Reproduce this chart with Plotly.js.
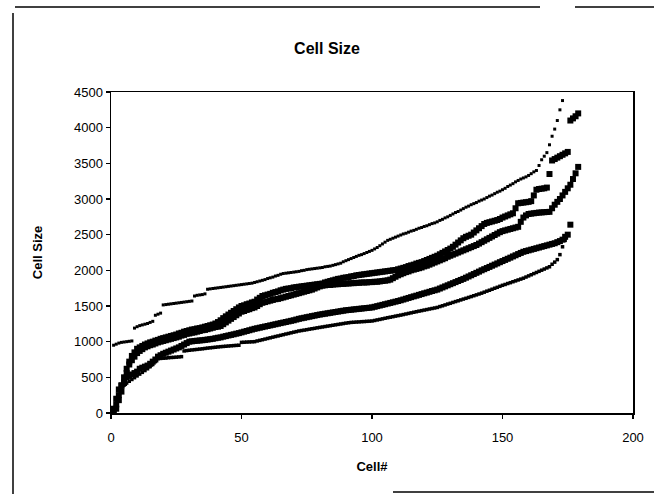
<!DOCTYPE html>
<html>
<head>
<meta charset="utf-8">
<script src="https://cdn.plot.ly/plotly-3.0.1.min.js"></script>
<style>html,body{margin:0;padding:0;background:#fff;}#chart{width:654px;height:494px;}</style>
</head>
<body>
<div id="chart"></div>
<script>
// Sorted cell sizes for five samples; x = cell number (1..N)
const seriesA = [950,965,980,990,995,1000,1005,1010,1190,1210,1225,1235,1245,1255,1270,1285,1370,1385,1400,1515,
1520,1525,1530,1535,1540,1545,1550,1555,1560,1565,1570,1640,1650,1655,1660,1670,1735,1740,1745,1750,
1755,1760,1765,1770,1775,1780,1785,1790,1795,1800,1805,1810,1815,1820,1830,1840,1850,1860,1870,1885,
1895,1905,1920,1930,1945,1955,1960,1965,1970,1975,1980,1985,1995,2000,2010,2015,2020,2025,2030,2035,
2040,2050,2055,2060,2070,2080,2090,2100,2120,2135,2150,2165,2180,2195,2210,2220,2235,2250,2265,2280,
2300,2320,2345,2370,2395,2420,2435,2450,2465,2480,2495,2510,2520,2535,2550,2560,2575,2590,2600,2615,
2625,2640,2655,2665,2680,2700,2715,2735,2750,2770,2790,2810,2825,2845,2865,2885,2900,2920,2935,2950,
2970,2985,3000,3020,3040,3055,3075,3095,3110,3130,3150,3175,3195,3215,3240,3260,3280,3295,3310,3330,
3355,3380,3400,3470,3550,3600,3650,3760,3880,3980,4100,4250,4380];

const seriesB = [30,120,250,380,500,620,720,800,850,900,920,940,960,975,990,1000,1015,1025,1040,1050,
1060,1070,1080,1090,1100,1115,1125,1140,1150,1160,1170,1175,1185,1190,1200,1210,1220,1230,1240,1255,
1275,1300,1330,1355,1380,1405,1430,1455,1480,1500,1510,1525,1535,1550,1560,1590,1615,1640,1650,1660,
1670,1685,1695,1705,1720,1730,1740,1745,1750,1760,1765,1770,1775,1780,1785,1790,1795,1800,1805,1810,
1815,1830,1840,1850,1860,1870,1880,1885,1895,1900,1905,1915,1920,1930,1935,1940,1945,1950,1955,1960,
1965,1970,1975,1980,1985,1990,1995,2000,2005,2015,2025,2035,2045,2060,2070,2080,2095,2105,2115,2130,
2145,2160,2175,2190,2205,2225,2245,2265,2285,2305,2330,2360,2390,2420,2450,2470,2485,2500,2530,2560,
2590,2620,2650,2665,2675,2685,2695,2705,2720,2740,2755,2770,2785,2800,2870,2940,2945,2950,2955,2960,
2970,3050,3130,3140,3145,3150,3160,3350,3540,3560,3580,3600,3620,3640,3660,4100,4130,4160,4200];

const seriesC = [0,60,180,300,420,560,680,740,790,840,870,895,920,935,950,960,975,990,1000,1010,
1020,1030,1040,1050,1060,1070,1085,1095,1110,1115,1125,1130,1140,1150,1160,1165,1175,1185,1195,1205,
1210,1220,1245,1270,1295,1320,1345,1370,1395,1420,1430,1445,1455,1470,1480,1500,1525,1545,1555,1565,
1575,1585,1595,1600,1610,1620,1630,1640,1650,1660,1670,1680,1690,1700,1710,1720,1730,1745,1760,1775,
1785,1790,1795,1795,1800,1805,1805,1810,1810,1815,1815,1820,1820,1825,1825,1830,1830,1830,1835,1835,
1840,1840,1845,1850,1855,1860,1870,1890,1910,1930,1945,1960,1975,1985,2000,2010,2020,2030,2040,2055,
2065,2080,2095,2110,2125,2140,2155,2170,2190,2205,2220,2235,2250,2265,2280,2295,2310,2325,2340,2355,
2375,2395,2415,2435,2455,2475,2495,2515,2535,2550,2560,2570,2580,2590,2600,2610,2680,2740,2770,2790,
2795,2800,2805,2810,2812,2815,2818,2820,2870,2920,2960,3000,3050,3100,3150,3200,3280,3360,3450];

const seriesD = [60,200,330,390,430,500,520,540,560,580,620,635,650,665,690,720,750,790,810,830,
845,860,875,890,905,920,940,960,980,1000,1005,1010,1013,1017,1020,1025,1030,1035,1040,1048,
1055,1060,1070,1078,1087,1095,1103,1112,1120,1130,1140,1150,1160,1170,1180,1188,1196,1204,1212,1220,
1228,1236,1244,1252,1260,1268,1276,1284,1292,1300,1310,1320,1328,1335,1343,1350,1358,1365,1373,1380,
1386,1392,1398,1404,1410,1416,1422,1428,1434,1440,1444,1448,1452,1456,1460,1464,1468,1472,1476,1480,
1489,1498,1507,1516,1525,1534,1543,1552,1561,1570,1580,1591,1602,1613,1624,1635,1645,1656,1667,1678,
1688,1699,1710,1720,1730,1745,1760,1775,1790,1805,1820,1835,1850,1865,1880,1897,1914,1931,1948,1965,
1982,2000,2016,2032,2048,2065,2081,2097,2114,2130,2146,2162,2178,2195,2211,2228,2244,2260,2270,2280,
2290,2300,2310,2320,2330,2340,2350,2360,2370,2380,2395,2410,2430,2470,2500,2640];

const seriesE = [20,150,260,340,390,420,445,470,495,520,545,570,595,620,650,680,720,760,765,768,
770,775,778,780,783,786,790,870,875,880,884,888,892,896,900,905,910,914,918,922,
926,930,933,936,939,942,945,948,950,990,992,994,996,998,1000,1010,1018,1027,1036,1045,
1054,1063,1072,1080,1089,1098,1107,1115,1124,1133,1141,1150,1156,1162,1168,1175,1181,1187,1194,1200,
1206,1212,1218,1224,1230,1236,1242,1248,1254,1260,1265,1270,1272,1275,1277,1280,1282,1285,1287,1290,
1297,1305,1312,1320,1328,1336,1343,1350,1358,1365,1372,1380,1388,1396,1404,1412,1420,1428,1435,1443,
1450,1458,1465,1472,1480,1492,1503,1515,1527,1538,1550,1562,1573,1585,1597,1608,1620,1632,1644,1656,
1668,1680,1694,1708,1721,1735,1749,1762,1776,1790,1802,1815,1827,1840,1852,1865,1877,1890,1906,1922,
1938,1954,1970,1986,2002,2018,2034,2050,2085,2115,2150,2220,2330,2420];

const seriesList = [
  {name: 'A', y: seriesA, size: 3},
  {name: 'B', y: seriesB, size: 6},
  {name: 'C', y: seriesC, size: 6},
  {name: 'D', y: seriesD, size: 6},
  {name: 'E', y: seriesE, size: 3.5}
];

const traces = seriesList.map(s => ({
  type: 'scatter',
  mode: 'markers',
  name: s.name,
  x: s.y.map((_, i) => i + 1),
  y: s.y,
  marker: {symbol: 'square', size: s.size, color: '#000', line: {width: 0}},
  showlegend: false,
  hoverinfo: 'x+y'
}));

const fontFam = 'Arial, "Liberation Sans", sans-serif';
const W = 654, H = 494, L = 111, R = 21, T = 92, B = 81;
const pw = W - L - R, ph = H - T - B;
const px = p => (p - L) / pw;       // pixel x -> paper x
const py = p => (H - B - p) / ph;   // pixel y -> paper y

const frameLine = {color: '#000', width: 1.5};
const layout = {
  width: W, height: H,
  margin: {l: L, r: R, t: T, b: B, pad: 0},
  paper_bgcolor: '#fff',
  plot_bgcolor: '#fff',
  font: {family: fontFam, color: '#000', size: 13},
  title: {text: 'Cell Size', font: {family: fontFam, size: 16, weight: 'bold', color: '#000'},
          x: 0.5, xref: 'container', y: 1 - 48 / H, yref: 'container', yanchor: 'middle'},
  xaxis: {
    range: [0, 200], dtick: 50, tick0: 0, ticks: 'outside', ticklen: 4, tickwidth: 1.5, tickcolor: '#000',
    ticklabelstandoff: 8,
    showline: true, linewidth: 1.5, linecolor: '#000', mirror: true,
    showgrid: false, zeroline: false,
    tickfont: {family: fontFam, size: 13, color: '#000'},
    title: {text: 'Cell#', font: {family: fontFam, size: 13, weight: 'bold', color: '#000'}, standoff: 18}
  },
  yaxis: {
    range: [0, 4500], dtick: 500, tick0: 0, ticks: 'outside', ticklen: 4, tickwidth: 1.5, tickcolor: '#000',
    showline: true, linewidth: 1.5, linecolor: '#000', mirror: true,
    showgrid: false, zeroline: false,
    tickfont: {family: fontFam, size: 13, color: '#000'},
    title: {text: 'Cell Size', font: {family: fontFam, size: 13, weight: 'bold', color: '#000'}, standoff: 28}
  },
  shapes: [
    {type: 'line', xref: 'paper', yref: 'paper', x0: px(15), x1: px(540), y0: py(7), y1: py(7), line: frameLine},
    {type: 'line', xref: 'paper', yref: 'paper', x0: px(575), x1: px(660), y0: py(7), y1: py(7), line: frameLine},
    {type: 'line', xref: 'paper', yref: 'paper', x0: px(13), x1: px(13), y0: py(13), y1: py(500), line: frameLine},
    {type: 'line', xref: 'paper', yref: 'paper', x0: px(393), x1: px(660), y0: py(492), y1: py(492), line: frameLine}
  ]
};

Plotly.newPlot('chart', traces, layout, {displayModeBar: false, staticPlot: true});
</script>
</body>
</html>
